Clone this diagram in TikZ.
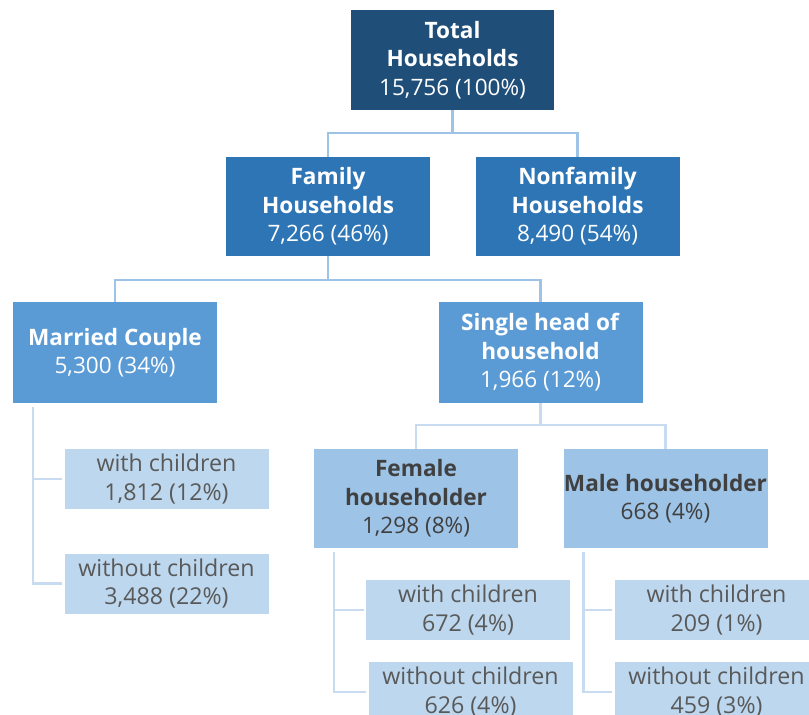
\documentclass[tikz,border=0pt]{standalone}
\usepackage{fontspec}
\setmainfont{Open Sans}
\usepackage{xcolor}

\definecolor{navy}{HTML}{1F4E79}
\definecolor{midblue}{HTML}{2E75B6}
\definecolor{skyblue}{HTML}{5B9BD5}
\definecolor{paleblue}{HTML}{9DC3E6}
\definecolor{leafblue}{HTML}{BDD7EE}
\definecolor{linkblue}{HTML}{9DC3E6}
\definecolor{leaflinkblue}{HTML}{C9DBF0}
\definecolor{darktext}{HTML}{404040}
\definecolor{leaftext}{HTML}{595959}

\newcommand{\boxhead}[1]{\textbf{#1}}

\tikzset{
  box/.style={rectangle, align=center, inner sep=0pt, font=\fontsize{22.6}{28.5}\selectfont},
  topbox/.style={box, fill=navy, text=white, minimum width=203pt, minimum height=100pt},
  famboxes/.style={box, fill=midblue, text=white, minimum width=204pt, minimum height=99pt},
  kindbox/.style={box, fill=skyblue, text=white, minimum width=204pt, minimum height=101pt},
  headbox/.style={box, fill=paleblue, text=darktext, minimum width=204pt, minimum height=99pt},
  leafbox/.style={box, fill=leafblue, text=leaftext, minimum width=204pt, minimum height=60pt,
    font=\fontsize{23.2}{28.5}\selectfont},
  link/.style={draw=linkblue, line width=2.5pt},
  leaflink/.style={draw=leaflinkblue, line width=2.5pt}
}

\begin{document}
\begin{tikzpicture}[x=1pt, y=-1pt]
\useasboundingbox (0,0) rectangle (809,715);
\clip (0,0) rectangle (809,715);

% Top level
\node[topbox] (total) at (452.5,60) {\boxhead{Total}\\\boxhead{Households}\\15,756 (100\%)};

% Family / nonfamily
\node[famboxes] (family) at (328,206.5) {\boxhead{Family}\\\boxhead{Households}\\7,266 (46\%)};
\node[famboxes] (nonfam) at (577.5,206.5) {\boxhead{Nonfamily}\\\boxhead{Households}\\8,490 (54\%)};

% Family types
\node[kindbox] (married) at (115,352.5) {\boxhead{Married Couple}\\5,300 (34\%)};
\node[kindbox] (single) at (540.5,352.5) {\boxhead{Single head of}\\\boxhead{household}\\1,966 (12\%)};

% Householders
\node[headbox] (female) at (416,498.5) {\boxhead{Female}\\\boxhead{householder}\\1,298 (8\%)};
\node[headbox] (male) at (665.5,498.5) {\boxhead{Male householder}\\668 (4\%)};

% Leaves
\node[leafbox] (mcwith) at (166.5,479) {with children\\1,812 (12\%)};
\node[leafbox] (mcwithout) at (166.5,583.5) {without children\\3,488 (22\%)};
\node[leafbox] (fwith) at (468,610) {with children\\672 (4\%)};
\node[leafbox] (fwithout) at (470.5,692) {without children\\626 (4\%)};
\node[leafbox] (mwith) at (716.5,610) {with children\\209 (1\%)};
\node[leafbox] (mwithout) at (716.5,692) {without children\\459 (3\%)};

% Tree connectors
\draw[link] (total.south) -- ++(0,23) -| (family.north);
\draw[link] (total.south) -- ++(0,23) -| (nonfam.north);
\draw[link] (family.south) -- ++(0,24) -| (married.north);
\draw[link] (family.south) -- ++(0,24) -| (single.north);
\draw[leaflink] (single.south) -- ++(0,22) -| (female.north);
\draw[leaflink] (single.south) -- ++(0,22) -| (male.north);

% Side connectors
\foreach \parent/\first/\second in {married/mcwith/mcwithout, female/fwith/fwithout, male/mwith/mwithout} {
  \draw[leaflink] ([xshift=20pt,yshift=-4pt]\parent.south west) |- ([xshift=-2pt]\first.west);
  \draw[leaflink] ([xshift=20pt,yshift=-4pt]\parent.south west) |- ([xshift=-2pt]\second.west);
}
\end{tikzpicture}
\end{document}
